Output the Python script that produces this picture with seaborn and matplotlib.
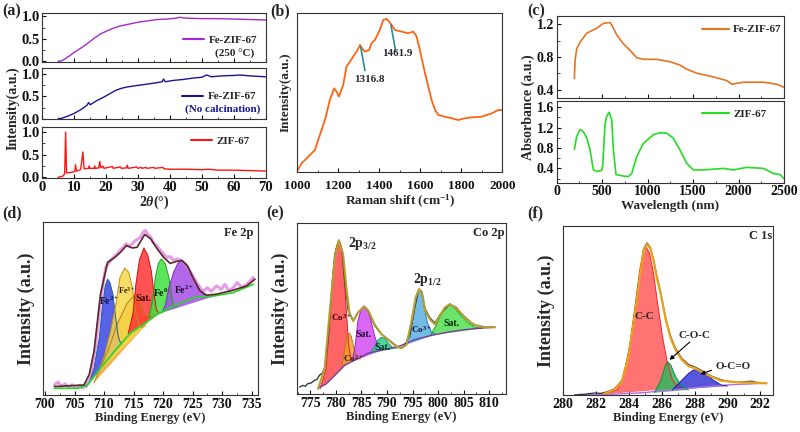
import matplotlib
matplotlib.use("Agg")
import matplotlib.pyplot as plt
from matplotlib.ticker import AutoMinorLocator, MultipleLocator
from matplotlib.lines import Line2D
import seaborn as sns

# (a) XRD
xrd_x_250 = [5.0, 6.0, 7.0, 8.5, 10, 12, 14, 16, 18, 20, 22, 24, 26, 28, 30, 33, 36, 39, 42, 43, 45, 50, 55, 60, 65, 70]
xrd_y_250 = [0.0, 0.01, 0.05, 0.12, 0.2, 0.29, 0.39, 0.5, 0.6, 0.67, 0.73, 0.78, 0.81, 0.84, 0.87, 0.9, 0.93, 0.94, 0.96, 0.98, 0.96, 0.95, 0.95, 0.94, 0.93, 0.92]
xrd_x_nc = [5, 6, 8, 10, 12, 14, 14.5, 15, 17, 19, 21, 23, 25, 27, 29, 32, 35, 37.5, 38, 38.5, 41, 44, 47, 50, 51.5, 53, 56, 60, 62, 65, 70]
xrd_y_nc = [0.0, 0.01, 0.06, 0.12, 0.2, 0.3, 0.36, 0.31, 0.4, 0.47, 0.55, 0.63, 0.68, 0.71, 0.73, 0.76, 0.79, 0.82, 0.88, 0.82, 0.85, 0.87, 0.9, 0.92, 0.97, 0.93, 0.95, 0.96, 0.97, 0.95, 0.93]
xrd_x_zif = [5.0, 6.5, 7.0, 7.3, 7.6, 9.0, 10.2, 10.4, 10.7, 12.0, 12.7, 13.1, 14.5, 14.7, 14.9, 16.2, 16.4, 16.6,
             17.7, 18.0, 18.3, 19.0, 19.3, 22.0, 22.2, 24.5, 24.7, 26.4, 26.6, 26.9, 29.6, 29.9, 31.0, 31.2,
             32.5, 32.7, 35.0, 35.2, 37.8, 38.1, 40, 45, 50, 52, 55, 60, 65, 70]
xrd_y_zif = [0.0, 0.03, 0.08, 1.0, 0.1, 0.11, 0.13, 0.28, 0.14, 0.17, 0.56, 0.19, 0.2, 0.25, 0.2, 0.2, 0.25, 0.2,
             0.21, 0.35, 0.21, 0.25, 0.2, 0.24, 0.2, 0.23, 0.2, 0.21, 0.27, 0.2, 0.23, 0.2, 0.22, 0.2,
             0.22, 0.2, 0.22, 0.2, 0.22, 0.19, 0.18, 0.18, 0.17, 0.18, 0.16, 0.16, 0.15, 0.14]

# (b) Raman
raman_x = [1000, 1021, 1046, 1086, 1102, 1135, 1159, 1180, 1192, 1203, 1224, 1240, 1257, 1278, 1294, 1306, 1318, 1330, 1350, 1362,
           1379, 1403, 1419, 1436, 1448, 1460, 1476, 1509, 1541, 1566, 1582, 1598, 1623, 1639, 1655, 1672, 1688, 1720, 1753, 1785,
           1818, 1850, 1899, 1948, 1980, 2000]
raman_y = [0.006, 0.053, 0.084, 0.137, 0.2, 0.326, 0.453, 0.526, 0.505, 0.474, 0.547, 0.663, 0.695, 0.737, 0.768, 0.8, 0.773, 0.758, 0.768, 0.811,
           0.832, 0.895, 0.958, 0.964, 0.947, 0.926, 0.895, 0.884, 0.874, 0.884, 0.853, 0.768, 0.621, 0.537, 0.453, 0.389, 0.358, 0.347, 0.337, 0.326,
           0.337, 0.343, 0.347, 0.368, 0.389, 0.389]

# (c) UV-vis-NIR
uv_x_fe = [194, 202, 220, 257, 330, 440, 513, 587, 605, 660, 733, 806, 880, 953, 1100, 1246, 1356, 1430, 1540, 1723, 1870, 1925, 2053, 2273, 2420, 2493]
uv_y_fe = [0.535, 0.76, 0.9, 0.98, 1.09, 1.15, 1.21, 1.22, 1.19, 1.07, 0.96, 0.88, 0.79, 0.77, 0.77, 0.74, 0.7, 0.65, 0.6, 0.555, 0.51, 0.465, 0.49, 0.49, 0.465, 0.43]
uv_x_zif = [194, 220, 257, 293, 330, 366, 403, 440, 495, 506, 532, 550, 576, 605, 623, 652, 733, 788, 825, 880, 953, 1063, 1136, 1210,
            1283, 1356, 1430, 1503, 1613, 1833, 1943, 2090, 2273, 2383, 2456, 2500]
uv_y_zif = [0.77, 1.03, 1.16, 1.12, 1.0, 0.77, 0.37, 0.34, 0.36, 0.46, 1.28, 1.42, 1.5, 1.35, 0.77, 0.28, 0.25, 0.24, 0.3, 0.63, 0.89, 1.06, 1.1, 1.09,
            0.99, 0.76, 0.5, 0.37, 0.37, 0.4, 0.37, 0.42, 0.4, 0.3, 0.28, 0.2]

# (d) Fe 2p
fe_raw_x = [701.6, 702.2, 702.8, 703.4, 704.0, 704.6, 705.2, 705.8, 706.4, 707.0, 707.5, 708.0, 708.6, 709.0, 709.4, 709.9, 710.3, 710.7, 711.1, 711.7,
            712.25, 712.8, 713.2, 713.7, 714.2, 714.8, 715.2, 715.7, 716.2, 716.6, 717.0, 717.4, 717.9, 718.4, 719.0, 719.6, 720.2, 720.7, 721.2, 721.8,
            722.4, 723.0, 723.8, 724.5, 725.2, 725.9, 726.5, 726.9, 727.5, 728.2, 729.1, 729.8, 730.5, 731.2, 731.9, 732.6, 733.4, 734.2, 734.8, 735.3]
fe_raw_y = [0.058, 0.075, 0.05, 0.065, 0.045, 0.06, 0.042, 0.055, 0.04, 0.06, 0.087, 0.17, 0.29, 0.42, 0.544, 0.66, 0.738, 0.76, 0.777, 0.8,
            0.816, 0.84, 0.85, 0.874, 0.86, 0.874, 0.89, 0.9, 0.913, 0.94, 0.951, 0.93, 0.913, 0.88, 0.86, 0.835, 0.81, 0.796, 0.8, 0.78,
            0.786, 0.78, 0.757, 0.72, 0.68, 0.64, 0.61, 0.602, 0.62, 0.6, 0.631, 0.61, 0.64, 0.6, 0.621, 0.65, 0.62, 0.641, 0.66, 0.68]
fe_fit_x = [701.6, 706.6, 707.5, 708.3, 709.4, 710.6, 711.7, 712.8, 713.8, 714.8, 715.6, 716.9, 717.9, 719.0, 720.1, 721.2, 722.4, 723.2, 724.1,
            725.2, 726.3, 727.4, 729.1, 731.9, 734.2, 735.6]
fe_fit_y = [0.049, 0.058, 0.12, 0.252, 0.583, 0.767, 0.792, 0.825, 0.864, 0.85, 0.854, 0.928, 0.903, 0.845, 0.796, 0.761, 0.773, 0.777, 0.748,
            0.67, 0.602, 0.577, 0.583, 0.606, 0.631, 0.67]
fe_bg_x = [701.6, 705.5, 707.2, 709.4, 712.25, 714.5, 716.75, 719.0, 721.8, 725.2, 728.6, 731.9, 735.3]
fe_bg_y = [0.039, 0.039, 0.058, 0.155, 0.272, 0.359, 0.41, 0.466, 0.515, 0.563, 0.573, 0.592, 0.64]
fe_orange_x = [708.3, 709.4, 710.6, 712.25, 713.9, 715.1, 715.9, 716.75, 717.6, 718.4]
fe_orange_y = [0.07, 0.16, 0.25, 0.41, 0.53, 0.575, 0.545, 0.47, 0.45, 0.455]
fe_blue_x = [707.0, 707.6, 708.3, 709.2, 709.7, 710.2, 710.6, 711.0, 711.5, 711.9, 712.4, 712.9]
fe_blue_y = [0.045, 0.08, 0.155, 0.33, 0.505, 0.631, 0.67, 0.65, 0.583, 0.466, 0.34, 0.29]
fe_yellow_x = [709.0, 710.0, 711.1, 712.0, 712.7, 713.5, 714.2, 714.8, 715.3, 715.9, 716.4, 717.0]
fe_yellow_y = [0.13, 0.22, 0.369, 0.524, 0.68, 0.734, 0.709, 0.621, 0.485, 0.41, 0.39, 0.40]
fe_red_x = [714.1, 714.9, 715.4, 716.0, 716.75, 717.4, 718.0, 718.5, 718.9, 719.4]
fe_red_y = [0.355, 0.47, 0.64, 0.78, 0.85, 0.81, 0.72, 0.58, 0.49, 0.47]
fe_green_x = [717.6, 718.3, 718.7, 719.2, 719.7, 720.4, 721.0, 721.4, 721.8, 722.4]
fe_green_y = [0.445, 0.56, 0.68, 0.76, 0.786, 0.757, 0.68, 0.58, 0.52, 0.51]
fe_purple_x = [719.8, 720.4, 721.0, 721.8, 722.5, 723.2, 724.3, 725.2, 726.0, 727.2, 728.3]
fe_purple_y = [0.475, 0.52, 0.62, 0.71, 0.76, 0.78, 0.74, 0.67, 0.61, 0.575, 0.567]

# (e) Co 2p
co_raw_x = [772.9, 773.5, 774.0, 774.5, 775.2, 775.8, 776.3, 776.8, 777.3, 777.8, 778.5, 779.1, 779.8, 780.6, 781.2, 781.7, 782.4, 783.4, 784.3, 785.5,
            786.3, 787.6, 788.9, 790.2, 791.9, 792.8, 793.5, 794.5, 795.4, 796.2, 796.8, 797.4, 798.4, 799.4, 800.3, 801.3, 802.3, 803.6, 804.5, 805.2,
            806.0, 806.5, 807.5, 808.5, 809.5, 810.2, 811.1]
co_raw_y = [0.04, 0.05, 0.045, 0.06, 0.065, 0.08, 0.085, 0.11, 0.12, 0.15, 0.33, 0.58, 0.82, 0.9, 0.84, 0.68, 0.49, 0.43, 0.475, 0.51,
            0.485, 0.4, 0.35, 0.32, 0.28, 0.27, 0.285, 0.35, 0.5, 0.61, 0.6, 0.5, 0.445, 0.415, 0.46, 0.495, 0.525, 0.505, 0.47, 0.45,
            0.43, 0.415, 0.4, 0.395, 0.39, 0.392, 0.39]
co_fit_x = [776.5, 777.8, 778.8, 779.8, 780.55, 781.4, 782.05, 782.7, 783.4, 784.3, 785.5, 786.4, 787.6, 788.9, 790.2, 791.85, 792.8, 793.8,
            794.8, 795.6, 796.3, 796.9, 797.5, 798.4, 799.4, 800.3, 801.3, 802.3, 803.6, 805.2, 806.9, 809.2, 811.1]
co_fit_y = [0.03, 0.149, 0.485, 0.802, 0.897, 0.822, 0.624, 0.465, 0.426, 0.475, 0.511, 0.485, 0.406, 0.35, 0.317, 0.277, 0.267, 0.287,
            0.426, 0.564, 0.614, 0.584, 0.485, 0.436, 0.406, 0.455, 0.505, 0.525, 0.5, 0.45, 0.406, 0.39, 0.39]
co_bg_x = [776.5, 778.1, 779.8, 781.7, 783.7, 786.3, 788.9, 792.2, 795.4, 798.7, 802.0, 805.2, 808.5, 811.1]
co_bg_y = [0.034, 0.059, 0.109, 0.168, 0.198, 0.238, 0.257, 0.277, 0.317, 0.343, 0.362, 0.376, 0.386, 0.39]
co_red_x = [776.9, 778.1, 778.8, 779.4, 780.1, 780.55, 781.1, 781.6, 782.05, 782.5, 783.0]
co_red_y = [0.03, 0.149, 0.426, 0.703, 0.861, 0.897, 0.861, 0.683, 0.485, 0.287, 0.198]
co_orange_x = [781.2, 781.9, 782.25, 782.6, 783.0, 783.55, 784.2, 784.8]
co_orange_y = [0.172, 0.287, 0.343, 0.356, 0.337, 0.267, 0.208, 0.205]
co_magenta_x = [783.2, 783.8, 784.3, 785.0, 785.5, 786.2, 786.8, 787.6, 788.3, 789.0]
co_magenta_y = [0.19, 0.287, 0.426, 0.5, 0.515, 0.495, 0.436, 0.337, 0.277, 0.255]
co_teal_x = [786.6, 787.6, 788.3, 788.9, 789.6, 790.4, 791.2, 792.0]
co_teal_y = [0.236, 0.277, 0.317, 0.331, 0.323, 0.291, 0.27, 0.268]
co_blue_x = [793.5, 794.5, 795.1, 795.8, 796.3, 796.75, 797.3, 797.9, 798.7, 799.6]
co_blue_y = [0.285, 0.337, 0.446, 0.584, 0.614, 0.594, 0.505, 0.416, 0.362, 0.348]
co_green_x = [798.5, 799.7, 800.7, 801.7, 802.3, 803.3, 804.6, 805.9, 807.2, 808.6]
co_green_y = [0.342, 0.406, 0.475, 0.515, 0.525, 0.5, 0.455, 0.416, 0.39, 0.383]

# (f) C 1s
c_raw_x = [280.7, 281.3, 281.9, 282.3, 282.7, 283.1, 283.57, 283.97, 284.37, 284.66, 284.9, 285.1, 285.3, 285.5, 285.69, 285.95, 286.25, 286.55,
           286.85, 287.24, 287.64, 288.04, 288.43, 289.03, 289.62, 290.2, 290.62, 291.2, 291.5, 291.8, 292.2]
c_raw_y = [0.0, 0.005, 0.012, 0.01, 0.02, 0.035, 0.085, 0.23, 0.49, 0.71, 0.865, 0.9, 0.875, 0.8, 0.71, 0.6, 0.45, 0.345,
           0.275, 0.215, 0.18, 0.165, 0.145, 0.112, 0.09, 0.078, 0.075, 0.08, 0.082, 0.074, 0.07]
c_fit_x = [282.5, 283.08, 283.57, 283.97, 284.37, 284.66, 284.9, 285.1, 285.3, 285.5, 285.69, 285.95, 286.25, 286.55, 286.85, 287.24,
           287.64, 288.04, 288.43, 289.03, 289.62, 290.62, 291.8, 292.4]
c_fit_y = [0.008, 0.03, 0.079, 0.227, 0.483, 0.7, 0.858, 0.893, 0.868, 0.799, 0.7, 0.592, 0.444, 0.335, 0.266, 0.207,
           0.171, 0.158, 0.138, 0.108, 0.085, 0.075, 0.073, 0.069]
c_bg_x = [280.7, 283.3, 284.9, 286.65, 288.2, 290.2, 292.2]
c_bg_y = [0.0, 0.006, 0.014, 0.03, 0.045, 0.061, 0.069]
c_red_x = [282.48, 283.27, 283.67, 284.07, 284.37, 284.66, 284.9, 285.06, 285.26, 285.5, 285.75, 286.05, 286.35, 286.65, 287.04]
c_red_y = [0.004, 0.03, 0.108, 0.306, 0.523, 0.74, 0.862, 0.874, 0.838, 0.72, 0.542, 0.345, 0.187, 0.089, 0.04]
c_green_x = [285.56, 285.95, 286.2, 286.35, 286.55, 286.85, 287.24, 287.64]
c_green_y = [0.014, 0.089, 0.168, 0.197, 0.178, 0.108, 0.05, 0.03]
c_blue_x = [286.65, 287.24, 287.64, 287.94, 288.23, 288.63, 289.13, 289.62, 290.0]
c_blue_y = [0.03, 0.089, 0.128, 0.148, 0.148, 0.128, 0.089, 0.059, 0.053]

sns.set_theme(style="ticks")
plt.rcParams["font.family"] = ["Liberation Serif", "DejaVu Serif"]
plt.rcParams["font.weight"] = "bold"
plt.rcParams["axes.labelweight"] = "bold"
plt.rcParams["mathtext.fontset"] = "custom"
plt.rcParams["mathtext.rm"] = "Liberation Serif:bold"
plt.rcParams["mathtext.it"] = "Liberation Serif:italic:bold"
plt.rcParams["mathtext.bf"] = "Liberation Serif:bold"

fig = plt.figure(figsize=(8, 4.32), dpi=100)


def frame(ax, size=10):
    for s in ax.spines.values():
        s.set_linewidth(0.8)
        s.set_color("#333333")
    ax.tick_params(direction="in", length=3, width=0.8, labelsize=size, pad=2, colors="#111111")
    ax.tick_params(which="minor", direction="in", length=1.8, width=0.6)


def line(ax, x, y, color, lw=1.2, label=None, alpha=1.0):
    sns.lineplot(x=x, y=y, ax=ax, color=color, lw=lw, sort=False, label=label, alpha=alpha, legend=False)


def peak(ax, x, y, color, edge):
    ax.fill(x, y, color=color, alpha=0.85, lw=0)
    ax.plot(x, y, color=edge, lw=0.7)


# ---- (a)
a_axes = [fig.add_axes([0.0529, 0.8565, 0.2793, 0.1134]),
          fig.add_axes([0.0529, 0.7245, 0.2793, 0.1181]),
          fig.add_axes([0.0529, 0.5873, 0.2793, 0.1194])]
a_data = [(xrd_x_250, xrd_y_250, "#a22ad0", "Fe-ZIF-67"),
          (xrd_x_nc, xrd_y_nc, "#16169a", "Fe-ZIF-67"),
          (xrd_x_zif, xrd_y_zif, "#ff1414", "ZIF-67")]
a_ylims = [(-0.015, 1.075), (-0.005, 1.125), (-0.02, 1.12)]
a_leg = [(0.63, 0.44), (0.625, 0.44), (0.665, 0.72)]
for ax, (x, y, c, lab), yl, lp in zip(a_axes, a_data, a_ylims, a_leg):
    line(ax, x, y, c, lw=1.0)
    ax.set_xlim(0, 70)
    ax.set_ylim(*yl)
    ax.set_yticks([0.0, 0.5, 1.0])
    ax.set_yticklabels(["0.0", "0.5", "1.0"])
    ax.xaxis.set_major_locator(MultipleLocator(10))
    ax.xaxis.set_minor_locator(AutoMinorLocator(2))
    ax.yaxis.set_minor_locator(AutoMinorLocator(2))
    frame(ax, 10.5)
    ax.set_xlabel("")
    ax.set_ylabel("")
    h = [Line2D([0], [0], color=c, lw=1.5)]
    ax.legend(h, [lab], loc="center left", bbox_to_anchor=lp, frameon=False, fontsize=8,
              handlelength=1.9, handletextpad=0.4, borderpad=0, borderaxespad=0)
for ax in a_axes[:2]:
    ax.tick_params(labelbottom=False)
a_axes[0].text(0.86, 0.17, "(250 °C)", transform=a_axes[0].transAxes, ha="center", va="center", fontsize=8)
a_axes[1].text(0.805, 0.2, "(No calcination)", transform=a_axes[1].transAxes, ha="center", va="center",
               fontsize=8, color="#16169a")
a_axes[2].set_xlabel("2$\\theta$(°)", fontsize=10, labelpad=0)
fig.text(0.016, 1 - 108 / 432, "Intensity(a.u.)", rotation=90, ha="center", va="center", fontsize=10)

# ---- (b)
ax_b = fig.add_axes([0.3716, 0.6026, 0.2563, 0.3667])
line(ax_b, raman_x, raman_y, "#ff6414", lw=1.3)
ax_b.set_xlim(1000, 2000)
ax_b.set_ylim(0, 1.0)
ax_b.set_yticks([])
ax_b.xaxis.set_major_locator(MultipleLocator(200))
ax_b.xaxis.set_minor_locator(AutoMinorLocator(2))
frame(ax_b, 9.5)
ax_b.tick_params(pad=6)
ax_b.plot([1309, 1330], [0.789, 0.638], color="#2a8c9a", lw=1.2)
ax_b.plot([1457, 1480], [0.926, 0.758], color="#2a8c9a", lw=1.2)
ax_b.text(1351, 0.58, "1316.8", ha="center", va="center", fontsize=8)
ax_b.text(1488, 0.745, "1461.9", ha="center", va="center", fontsize=8)
ax_b.set_xlabel("Raman shift (cm$^{-1}$)", fontsize=9.5, labelpad=1)
ax_b.set_ylabel("Intensity(a.u.)", fontsize=9.5, labelpad=4)

# ---- (c)
c_top = fig.add_axes([0.6959, 0.7738, 0.2841, 0.1891])
c_bot = fig.add_axes([0.6959, 0.5771, 0.2841, 0.1891])
line(c_top, uv_x_fe, uv_y_fe, "#e8731f", lw=1.2)
line(c_bot, uv_x_zif, uv_y_zif, "#22dd22", lw=1.2)
c_top.set_ylim(0.3, 1.3)
c_top.set_yticks([0.4, 0.8, 1.2])
c_bot.set_ylim(0.12, 1.72)
c_bot.set_yticks([0.4, 0.8, 1.2, 1.6])
for ax, c, lab in [(c_top, "#e8731f", "Fe-ZIF-67"), (c_bot, "#22dd22", "ZIF-67")]:
    ax.set_xlim(0, 2500)
    ax.xaxis.set_major_locator(MultipleLocator(500))
    ax.xaxis.set_minor_locator(AutoMinorLocator(2))
    ax.yaxis.set_minor_locator(AutoMinorLocator(2))
    frame(ax, 10)
    ax.set_ylabel("")
    h = [Line2D([0], [0], color=c, lw=1.5)]
    ax.legend(h, [lab], loc="center left", bbox_to_anchor=(0.64, 0.835), frameon=False, fontsize=8,
              handlelength=2.4, handletextpad=0.4, borderpad=0, borderaxespad=0)
c_top.tick_params(labelbottom=False)
c_bot.set_xlabel("Wavelength (nm)", fontsize=9.5, labelpad=1)
fig.text(528 / 800, 1 - 107 / 432, "Absorbance (a.u.)", rotation=90, ha="center", va="center", fontsize=10)

# ---- (d)
ax_d = fig.add_axes([0.0541, 0.0856, 0.2684, 0.4005])
line(ax_d, fe_raw_x, fe_raw_y, "#e28ae2", lw=2.2, alpha=0.85)
peak(ax_d, fe_orange_x, fe_orange_y, "#f2a22a", "#c07810")
peak(ax_d, fe_blue_x, fe_blue_y, "#3a46e6", "#1d5f9a")
peak(ax_d, fe_yellow_x, fe_yellow_y, "#f6d84a", "#c09010")
peak(ax_d, fe_red_x, fe_red_y, "#ff3434", "#d01010")
peak(ax_d, fe_green_x, fe_green_y, "#40e040", "#20a020")
peak(ax_d, fe_purple_x, fe_purple_y, "#a24ee6", "#7a2ab8")
line(ax_d, fe_bg_x, fe_bg_y, "#32d232", lw=1.3)
line(ax_d, fe_fit_x, fe_fit_y, "#5a2828", lw=1.2)
ax_d.set_xlim(699.7, 736.1)
ax_d.set_xticks([700, 705, 710, 715, 720, 725, 730, 735])
ax_d.text(710.85, 0.544, "Fe$^{2+}$", ha="center", va="center", fontsize=7, color="#101040")
ax_d.text(713.8, 0.606, "Fe$^{3+}$", ha="center", va="center", fontsize=6, color="#302000")
ax_d.text(716.75, 0.56, "Sat.", ha="center", va="center", fontsize=7, color="#300000")
ax_d.text(719.56, 0.59, "Fe$^{0}$", ha="center", va="center", fontsize=7, color="#002000")
ax_d.text(723.5, 0.61, "Fe$^{2+}$", ha="center", va="center", fontsize=7, color="#200030")
ax_d.text(735.4, 0.935, "Fe 2p", ha="right", va="center", fontsize=9)

# ---- (e)
ax_e = fig.add_axes([0.3713, 0.088, 0.2613, 0.3958])
peak(ax_e, co_red_x, co_red_y, "#ff4a4a", "#e02020")
peak(ax_e, co_orange_x, co_orange_y, "#f0a030", "#c07810")
peak(ax_e, co_magenta_x, co_magenta_y, "#d24ef2", "#a020c0")
peak(ax_e, co_teal_x, co_teal_y, "#30d08a", "#10a060")
peak(ax_e, co_blue_x, co_blue_y, "#5aaee0", "#2a78b0")
peak(ax_e, co_green_x, co_green_y, "#52e052", "#20a020")
line(ax_e, co_bg_x, co_bg_y, "#7a3a9a", lw=1.0)
line(ax_e, co_raw_x, co_raw_y, "#3a3a3a", lw=1.0)
line(ax_e, co_fit_x, co_fit_y, "#b4a032", lw=1.5)
ax_e.set_xlim(772.4, 813.3)
ax_e.set_xticks([775, 780, 785, 790, 795, 800, 805, 810])
ax_e.text(782.3, 0.88, "2p$_{3/2}$", ha="left", va="center", fontsize=10)
ax_e.text(795.1, 0.67, "2p$_{1/2}$", ha="left", va="center", fontsize=10)
ax_e.text(812.9, 0.94, "Co 2p", ha="right", va="center", fontsize=9)
ax_e.text(781.1, 0.445, "Co$^{3+}$", ha="center", va="center", fontsize=6.5, color="#300000")
ax_e.text(785.4, 0.35, "Sat.", ha="center", va="center", fontsize=7, color="#200030")
ax_e.text(783.4, 0.21, "Co$^{2+}$", ha="center", va="center", fontsize=6.5, color="#302000")
ax_e.text(789.2, 0.27, "Sat.", ha="center", va="center", fontsize=7, color="#002a2a")
ax_e.text(796.75, 0.38, "Co$^{3+}$", ha="center", va="center", fontsize=6.5, color="#101040")
ax_e.text(802.6, 0.415, "Sat.", ha="center", va="center", fontsize=7, color="#002000")

# ---- (f)
ax_f = fig.add_axes([0.7041, 0.0856, 0.2625, 0.3912])
line(ax_f, c_bg_x, c_bg_y, "#b070e0", lw=1.0)
peak(ax_f, c_red_x, c_red_y, "#ff5a5a", "#ff2020")
peak(ax_f, c_green_x, c_green_y, "#30b860", "#109040")
peak(ax_f, c_blue_x, c_blue_y, "#3a3ad6", "#2020a0")
line(ax_f, c_raw_x, c_raw_y, "#333333", lw=0.9)
line(ax_f, c_fit_x, c_fit_y, "#e8a21a", lw=1.6)
ax_f.set_xlim(280.3, 292.8)
ax_f.set_xticks([280, 282, 284, 286, 288, 290, 292])
ax_f.text(284.96, 0.467, "C-C", ha="center", va="center", fontsize=8)
ax_f.text(288.0, 0.355, "C-O-C", ha="center", va="center", fontsize=8)
ax_f.text(290.36, 0.17, "O-C=O", ha="center", va="center", fontsize=8)
ax_f.annotate("", xy=(286.35, 0.197), xytext=(287.84, 0.325),
              arrowprops=dict(arrowstyle="-|>", color="black", lw=0.8, mutation_scale=6))
ax_f.annotate("", xy=(288.2, 0.118), xytext=(289.2, 0.152),
              arrowprops=dict(arrowstyle="-|>", color="black", lw=0.8, mutation_scale=6))
ax_f.text(292.7, 0.94, "C 1s", ha="right", va="center", fontsize=9)

for ax in [ax_d, ax_e, ax_f]:
    ax.set_ylim(0, 1.0)
    ax.set_yticks([])
    ax.xaxis.set_minor_locator(AutoMinorLocator(2))
    frame(ax, 10)
    ax.set_xlabel("Binding Energy (eV)", fontsize=9, labelpad=1)
    ax.set_ylabel("Intensity (a.u.)", fontsize=13, labelpad=6)

for lab, x, y in [("(a)", 2, 11), ("(b)", 270, 11), ("(c)", 527, 11),
                  ("(d)", 2, 213), ("(e)", 266, 213), ("(f)", 527, 213)]:
    fig.text(x / 800, 1 - y / 432, lab, ha="left", va="center", fontsize=11.5)

fig.savefig("out.png", dpi=100)
